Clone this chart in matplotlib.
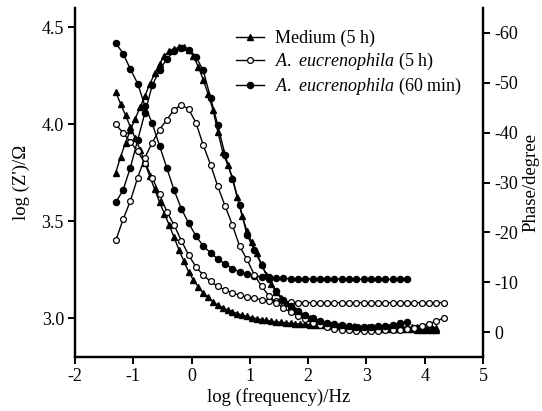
import numpy as np
import matplotlib
matplotlib.use('Agg')
import matplotlib.pyplot as plt

plt.rcParams['font.family'] = ['Liberation Serif', 'DejaVu Serif']
plt.rcParams['mathtext.fontset'] = 'custom'
plt.rcParams['mathtext.rm'] = 'Liberation Serif'
plt.rcParams['mathtext.it'] = 'Liberation Serif:italic'

# log frequency grids
log_f_medium = [-1.300, -1.217, -1.133, -1.050, -0.967, -0.883, -0.800, -0.717, -0.633, -0.550,
                -0.467, -0.383, -0.300, -0.217, -0.133, -0.050, 0.033, 0.117, 0.200, 0.283,
                0.367, 0.450, 0.533, 0.617, 0.700, 0.783, 0.867, 0.950, 1.033, 1.117,
                1.200, 1.283, 1.367, 1.450, 1.533, 1.617, 1.700, 1.783, 1.867, 1.950,
                2.033, 2.117, 2.200, 2.283, 2.367, 2.450, 2.533, 2.617, 2.700, 2.783,
                2.867, 2.950, 3.033, 3.117, 3.200, 3.283, 3.367, 3.450, 3.533, 3.617,
                3.700, 3.783, 3.867, 3.950, 4.033, 4.117, 4.200]
log_f_cells = [-1.3, -1.175, -1.05, -0.925, -0.8, -0.675, -0.55, -0.425, -0.3, -0.175,
               -0.05, 0.075, 0.2, 0.325, 0.45, 0.575, 0.7, 0.825, 0.95, 1.075,
               1.2, 1.325, 1.45, 1.575, 1.7, 1.825, 1.95, 2.075, 2.2, 2.325,
               2.45, 2.575, 2.7, 2.825, 2.95, 3.075, 3.2, 3.325, 3.45, 3.575,
               3.7, 3.825, 3.95, 4.075, 4.2, 4.325]
log_f_5h = log_f_cells
log_f_60 = log_f_cells[:41]

# Medium (5 h)
z_medium = [4.165, 4.105, 4.047, 3.987, 3.928, 3.87, 3.80, 3.732, 3.665, 3.599,
            3.54, 3.48, 3.417, 3.353, 3.295, 3.238, 3.197, 3.161, 3.13, 3.107,
            3.084, 3.068, 3.054, 3.043, 3.033, 3.024, 3.016, 3.009, 3.003, 2.998,
            2.993, 2.989, 2.984, 2.982, 2.979, 2.977, 2.974, 2.972, 2.970, 2.968,
            2.967, 2.965, 2.964, 2.963, 2.962, 2.961, 2.96, 2.959, 2.958, 2.958,
            2.957, 2.957, 2.956, 2.956, 2.955, 2.955, 2.955, 2.954, 2.954, 2.954,
            2.953, 2.953, 2.953, 2.952, 2.952, 2.952, 2.952]
ph_medium = [-32.0, -35.2, -38.0, -40.5, -42.8, -45.1, -47.4, -49.7, -51.9, -53.8,
             -55.4, -56.3, -56.8, -57.1, -57.2, -56.6, -55.3, -53.2, -50.6, -47.8,
             -44.6, -40.2, -36.2, -33.6, -31.0, -27.0, -23.3, -20.3, -18.0, -15.9,
             -13.6, -11.4, -9.6, -8.1, -6.8, -5.9, -5.2, -4.5, -3.9, -3.3,
             -2.8, -2.4, -2.0, -1.7, -1.5, -1.3, -1.2, -1.1, -1.0, -0.9,
             -0.9, -0.8, -0.8, -0.8, -0.7, -0.7, -0.7, -0.6, -0.6, -0.6,
             -0.6, -0.6, -0.5, -0.5, -0.5, -0.5, -0.5]

# A. eucrenophila (5 h)
z_5h = [4.0, 3.955, 3.91, 3.86, 3.8, 3.725, 3.64, 3.55, 3.48, 3.40,
        3.325, 3.265, 3.222, 3.19, 3.164, 3.146, 3.131, 3.118, 3.109, 3.102,
        3.096, 3.091, 3.087, 3.084, 3.082, 3.081, 3.081, 3.08, 3.08, 3.08,
        3.08, 3.08, 3.08, 3.08, 3.08, 3.08, 3.08, 3.08, 3.08, 3.08,
        3.08, 3.08, 3.08, 3.08, 3.08, 3.08]
ph_5h = [-18.4, -22.6, -26.3, -31.0, -35.0, -38.0, -40.6, -42.6, -44.6, -45.6,
         -44.7, -42.0, -37.5, -33.6, -29.2, -25.3, -21.5, -17.2, -14.6, -11.5,
         -9.2, -7.3, -5.9, -4.8, -4.0, -3.2, -2.6, -1.9, -1.4, -1.0,
         -0.7, -0.5, -0.4, -0.3, -0.3, -0.3, -0.3, -0.4, -0.4, -0.5,
         -0.6, -0.9, -1.3, -1.7, -2.2, -2.8]

# A. eucrenophila (60 min)
z_60 = [4.42, 4.365, 4.285, 4.21, 4.095, 4.005, 3.89, 3.775, 3.66, 3.565,
        3.49, 3.425, 3.372, 3.338, 3.305, 3.28, 3.256, 3.239, 3.228, 3.219,
        3.214, 3.211, 3.207, 3.205, 3.204, 3.204, 3.203, 3.203, 3.203, 3.202,
        3.202, 3.202, 3.202, 3.201, 3.201, 3.201, 3.201, 3.2, 3.2, 3.2, 3.2]
ph_60 = [-26.0, -28.5, -33.0, -38.5, -44.0, -49.5, -52.5, -54.8, -56.3, -57.0,
         -56.5, -55.2, -52.5, -47.0, -41.5, -35.5, -30.8, -25.5, -19.5, -16.5,
         -13.5, -10.7, -8.2, -6.5, -5.2, -4.2, -3.4, -2.8, -2.3, -1.9,
         -1.6, -1.4, -1.2, -1.1, -1.1, -1.1, -1.2, -1.3, -1.5, -1.8, -2.0]

labels = ['Medium (5 h)',
          r'$\mathit{A.}$ $\mathit{eucrenophila}$ (5 h)',
          r'$\mathit{A.}$ $\mathit{eucrenophila}$ (60 min)']

x_ticks = [-2, -1, 0, 1, 2, 3, 4, 5]
z_ticks = [3.0, 3.5, 4.0, 4.5]
ph_ticks = [0, -10, -20, -30, -40, -50, -60]

fig = plt.figure(figsize=(5.42, 4.11), dpi=100)
ax = fig.add_axes([0.1384, 0.1314, 0.7527, 0.8491])
ax2 = ax.twinx()

lw = 1.0
tri = dict(color='black', marker='^', ms=4.8, lw=lw, mfc='black', mec='black')
opn = dict(color='black', marker='o', ms=4.2, lw=lw, mfc='white', mec='black', mew=0.9)
fil = dict(color='black', marker='o', ms=4.4, lw=lw, mfc='black', mec='black')

h1, = ax.plot(log_f_medium, z_medium, **tri)
h2, = ax.plot(log_f_5h, z_5h, **opn)
h3, = ax.plot(log_f_60, z_60, **fil)
ax2.plot(log_f_medium, ph_medium, **tri)
ax2.plot(log_f_5h, ph_5h, **opn)
ax2.plot(log_f_60, ph_60, **fil)

ax.set_xlim(-2, 5)
ax.set_ylim(2.8, 4.6)
ax2.set_ylim(5, -65)

ax.set_xticks(x_ticks)
ax.set_xticklabels([str(t) for t in x_ticks])
ax.set_yticks(z_ticks)
ax.set_yticklabels(['%.1f' % t for t in z_ticks])
ax2.set_yticks(ph_ticks)
ax2.set_yticklabels([str(t) for t in ph_ticks])

for a in (ax, ax2):
    a.spines['top'].set_visible(False)
    for s in ('left', 'right', 'bottom'):
        a.spines[s].set_linewidth(1.6)
    a.tick_params(direction='out', length=5, width=1.4, labelsize=13, pad=3)

ax.set_xlabel('log (frequency)/Hz', fontsize=13.5, labelpad=2)
ax.set_ylabel("log (Z')/\u03a9", fontsize=13.5, labelpad=8)
ax2.set_ylabel('Phase/degree', fontsize=13.5, labelpad=3)

leg = ax2.legend([h1, h2, h3], labels, loc='upper left', bbox_to_anchor=(0.36, 0.978),
                 frameon=False, fontsize=13, handlelength=1.55, handletextpad=0.6,
                 labelspacing=0.2, borderpad=0.3)

plt.savefig('out.png', dpi=100)
